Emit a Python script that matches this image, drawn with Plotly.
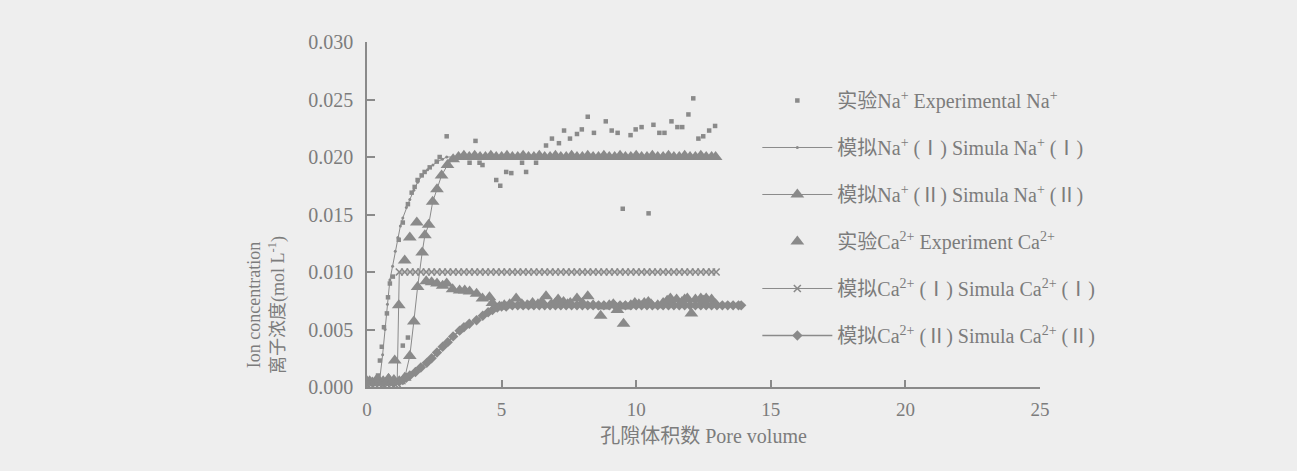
import numpy as np
import plotly.graph_objects as go

# ---------------- data ----------------
NA_EXP_X = [0.10, 0.20, 0.41, 0.48, 0.55, 0.63, 0.74, 0.78, 0.85, 0.96, 1.18, 1.33, 1.33, 1.52, 1.52,
            1.66, 1.77, 1.88, 2.03, 2.14, 2.33, 2.59, 2.70, 2.96, 3.81, 4.03, 4.18, 4.29, 4.80, 4.95,
            5.17, 5.36, 5.76, 5.91, 6.28, 6.65, 6.87, 7.13, 7.32, 7.54, 7.80, 7.98, 8.20, 8.43, 8.87,
            9.09, 9.31, 9.50, 9.79, 9.98, 10.20, 10.46, 10.64, 10.86, 11.05, 11.31, 11.53, 11.71,
            11.94, 12.12, 12.31, 12.49, 12.71, 12.93]
NA_EXP_Y = [0.0004, 0.0003, 0.0010, 0.0023, 0.0035, 0.0052, 0.0064, 0.0078, 0.0090, 0.0096, 0.0128, 0.0143,
            0.0036, 0.0159, 0.0043, 0.0169, 0.0174, 0.0180, 0.0184, 0.0187, 0.0191, 0.0196, 0.0200, 0.0218,
            0.0195, 0.0214, 0.0195, 0.0193, 0.0180, 0.0175, 0.0187, 0.0186, 0.0195, 0.0187, 0.0195, 0.0210,
            0.0216, 0.0212, 0.0223, 0.0216, 0.0220, 0.0224, 0.0235, 0.0221, 0.0231, 0.0223, 0.0221, 0.0155,
            0.0219, 0.0224, 0.0226, 0.0151, 0.0228, 0.0221, 0.0221, 0.0231, 0.0226, 0.0226, 0.0237, 0.0251,
            0.0216, 0.0218, 0.0223, 0.0227]

NA1_X = [0.0, 0.2, 0.35, 0.48, 0.58, 0.67, 0.76, 0.85, 0.95, 1.05, 1.15, 1.24, 1.33, 1.46, 1.59, 1.74,
         1.88, 2.05, 2.25, 2.45, 2.62, 2.80, 2.96, 3.4, 4.0, 5.0, 6.0, 7.0, 8.0, 9.0, 10.0, 11.0, 12.0, 12.9]
NA1_Y = [0.0003, 0.0003, 0.0004, 0.0008, 0.0028, 0.0050, 0.0072, 0.0093, 0.0105, 0.0118, 0.0130, 0.0140,
         0.0147, 0.0156, 0.0163, 0.0171, 0.0178, 0.0184, 0.0189, 0.0193, 0.0196, 0.0198, 0.0200, 0.0200,
         0.0200, 0.0200, 0.0200, 0.0200, 0.0200, 0.0200, 0.0200, 0.0200, 0.0200, 0.0200]

NA2_X = [0.0, 0.2, 0.4, 0.6, 0.8, 1.0, 1.2, 1.4, 1.59, 1.74, 1.88, 2.05, 2.15, 2.29, 2.44, 2.60, 2.77,
         2.99, 3.2, 3.4, 3.6, 3.8, 4.0, 4.2, 4.4, 4.6, 4.8, 5.0, 5.2, 5.4, 5.6, 5.8, 6.0, 6.2, 6.4, 6.6,
         6.8, 7.0, 7.2, 7.4, 7.6, 7.8, 8.0, 8.2, 8.4, 8.6, 8.8, 9.0, 9.2, 9.4, 9.6, 9.8, 10.0, 10.2,
         10.4, 10.6, 10.8, 11.0, 11.2, 11.4, 11.6, 11.8, 12.0, 12.2, 12.4, 12.6, 12.8, 12.95]
NA2_Y = [0.0005, 0.0004, 0.0006, 0.0005, 0.0007, 0.0006, 0.0005, 0.0008, 0.0027, 0.0057, 0.0087, 0.0117,
         0.0132, 0.0141, 0.0161, 0.0172, 0.0184, 0.0193, 0.0198, 0.0200, 0.0201, 0.0200, 0.0201, 0.0200,
         0.0200, 0.0201, 0.0200, 0.0200, 0.0201, 0.0200, 0.0200, 0.0201, 0.0200, 0.0200, 0.0201, 0.0200,
         0.0200, 0.0201, 0.0200, 0.0200, 0.0201, 0.0200, 0.0200, 0.0201, 0.0200, 0.0200, 0.0201, 0.0200,
         0.0200, 0.0201, 0.0200, 0.0200, 0.0201, 0.0200, 0.0200, 0.0201, 0.0200, 0.0200, 0.0201, 0.0200,
         0.0200, 0.0201, 0.0200, 0.0200, 0.0201, 0.0200, 0.0200, 0.0200]

CA_EXP_X = [0.10, 0.35, 0.60, 0.80, 1.03, 1.18, 1.40, 1.59, 1.85, 2.20, 2.40, 2.60, 2.81, 2.96, 3.18, 3.44,
            3.63, 3.81, 4.07, 4.29, 4.55, 4.66, 4.92, 5.10, 5.30, 5.54, 5.75, 5.95, 6.15, 6.35, 6.50,
            6.65, 6.85, 7.00, 7.10, 7.30, 7.45, 7.55, 7.80, 8.00, 8.20, 8.40, 8.68, 8.80, 9.00, 9.15,
            9.30, 9.53, 9.60, 9.80, 9.95, 10.10, 10.30, 10.45, 10.55, 10.80, 11.00, 11.15, 11.27, 11.50,
            11.70, 11.80, 11.90, 12.05, 12.20, 12.40, 12.50, 12.60, 12.80, 12.95]
CA_EXP_Y = [0.0005, 0.0006, 0.0004, 0.0007, 0.0023, 0.0071, 0.0110, 0.0130, 0.0143, 0.0092, 0.0091, 0.0090,
            0.0088, 0.0090, 0.0085, 0.0084, 0.0084, 0.0083, 0.0081, 0.0077, 0.0078, 0.0073, 0.0070, 0.0071,
            0.0072, 0.0077, 0.0072, 0.0071, 0.0073, 0.0072, 0.0074, 0.0079, 0.0072, 0.0073, 0.0076, 0.0074,
            0.0072, 0.0073, 0.0077, 0.0073, 0.0079, 0.0071, 0.0062, 0.0070, 0.0071, 0.0072, 0.0067, 0.0055,
            0.0070, 0.0071, 0.0073, 0.0072, 0.0073, 0.0074, 0.0072, 0.0071, 0.0073, 0.0075, 0.0077, 0.0076,
            0.0074, 0.0076, 0.0077, 0.0064, 0.0076, 0.0077, 0.0075, 0.0077, 0.0076, 0.0072]

CA1_X = [0.0, 0.15, 0.3, 0.45, 0.6, 0.75, 0.9, 1.05, 1.12, 1.2, 1.4, 1.6, 1.8, 2.0, 2.2, 2.4, 2.6, 2.8,
         3.0, 3.2, 3.4, 3.6, 3.8, 4.0, 4.2, 4.4, 4.6, 4.8, 5.0, 5.2, 5.4, 5.6, 5.8, 6.0, 6.2, 6.4, 6.6,
         6.8, 7.0, 7.2, 7.4, 7.6, 7.8, 8.0, 8.2, 8.4, 8.6, 8.8, 9.0, 9.2, 9.4, 9.6, 9.8, 10.0, 10.2,
         10.4, 10.6, 10.8, 11.0, 11.2, 11.4, 11.6, 11.8, 12.0, 12.2, 12.4, 12.6, 12.8, 12.97]
CA1_Y = [0.0002, 0.0002, 0.0002, 0.0002, 0.0002, 0.0002, 0.0002, 0.0002, 0.0003, 0.0100, 0.0100, 0.0100,
         0.0100, 0.0100, 0.0100, 0.0100, 0.0100, 0.0100, 0.0100, 0.0100, 0.0100, 0.0100, 0.0100, 0.0100,
         0.0100, 0.0100, 0.0100, 0.0100, 0.0100, 0.0100, 0.0100, 0.0100, 0.0100, 0.0100, 0.0100, 0.0100,
         0.0100, 0.0100, 0.0100, 0.0100, 0.0100, 0.0100, 0.0100, 0.0100, 0.0100, 0.0100, 0.0100, 0.0100,
         0.0100, 0.0100, 0.0100, 0.0100, 0.0100, 0.0100, 0.0100, 0.0100, 0.0100, 0.0100, 0.0100, 0.0100,
         0.0100, 0.0100, 0.0100, 0.0100, 0.0100, 0.0100, 0.0100, 0.0100, 0.0100]

CA2_X = [0.0, 0.2, 0.4, 0.6, 0.8, 1.0, 1.2, 1.33, 1.46, 1.59, 1.8, 2.0, 2.22, 2.4, 2.6, 2.81, 3.0, 3.2,
         3.44, 3.6, 3.8, 4.07, 4.3, 4.5, 4.66, 4.84, 5.0, 5.17, 5.4, 5.6, 5.8, 6.0, 6.2, 6.4, 6.6, 6.8,
         7.0, 7.2, 7.4, 7.6, 7.8, 8.0, 8.2, 8.4, 8.6, 8.8, 9.0, 9.2, 9.4, 9.6, 9.8, 10.0, 10.2, 10.4,
         10.6, 10.8, 11.0, 11.2, 11.4, 11.6, 11.8, 12.0, 12.2, 12.4, 12.6, 12.8, 13.0, 13.2, 13.4, 13.6,
         13.8, 13.9]
CA2_Y = [0.0004, 0.0004, 0.0005, 0.0004, 0.0005, 0.0004, 0.0005, 0.0006, 0.0008, 0.0010, 0.0013, 0.0017,
         0.0021, 0.0025, 0.0030, 0.0035, 0.0039, 0.0044, 0.0049, 0.0052, 0.0055, 0.0058, 0.0062, 0.0065,
         0.0067, 0.0069, 0.0070, 0.0070, 0.0071, 0.0071, 0.0071, 0.0071, 0.0071, 0.0071, 0.0071, 0.0071,
         0.0071, 0.0071, 0.0071, 0.0071, 0.0071, 0.0071, 0.0071, 0.0071, 0.0071, 0.0071, 0.0071, 0.0071,
         0.0071, 0.0071, 0.0071, 0.0071, 0.0071, 0.0071, 0.0071, 0.0071, 0.0071, 0.0071, 0.0071, 0.0071,
         0.0071, 0.0071, 0.0071, 0.0071, 0.0071, 0.0071, 0.0071, 0.0071, 0.0071, 0.0071, 0.0071, 0.0071]

NAMES = [
    "实验Na<sup>+</sup> Experimental Na<sup>+</sup>",
    "模拟Na<sup>+</sup> (Ⅰ) Simula Na<sup>+</sup> (Ⅰ)",
    "模拟Na<sup>+</sup> (Ⅱ) Simula Na<sup>+</sup> (Ⅱ)",
    "实验Ca<sup>2+</sup> Experiment Ca<sup>2+</sup>",
    "模拟Ca<sup>2+</sup> (Ⅰ) Simula Ca<sup>2+</sup> (Ⅰ)",
    "模拟Ca<sup>2+</sup> (Ⅱ) Simula Ca<sup>2+</sup> (Ⅱ)",
]
X_TICKS = [0, 5, 10, 15, 20, 25]
Y_TICKS = [0.000, 0.005, 0.010, 0.015, 0.020, 0.025, 0.030]
X_TITLE = "孔隙体积数 Pore volume"
Y_TITLE = "Ion concentration<br>离子浓度(mol L<sup>-1</sup>)"

# ---------------- style ----------------
GRAY = "#8a8a8a"
TEXT = "#7c7c7c"
BG = "#eeeeee"
FONT = "Liberation Serif, Noto Sans CJK SC, serif"

fig = go.Figure()

fig.add_trace(go.Scatter(x=CA2_X, y=CA2_Y, mode="lines+markers", name=NAMES[5], legendrank=6,
                         legendgroup="g6",
                         line=dict(color=GRAY, width=1.5),
                         marker=dict(symbol="diamond", size=8, color=GRAY)))
fig.add_trace(go.Scatter(x=CA_EXP_X, y=CA_EXP_Y, mode="markers", name=NAMES[3], legendrank=4,
                         legendgroup="g4",
                         marker=dict(symbol="triangle-up", size=12, color=GRAY)))
fig.add_trace(go.Scatter(x=CA1_X, y=CA1_Y, mode="lines+markers", name=NAMES[4], legendrank=5,
                         legendgroup="g5",
                         line=dict(color=GRAY, width=1),
                         marker=dict(symbol="x-thin", size=7, color=GRAY,
                                     line=dict(color=GRAY, width=1.6))))
fig.add_trace(go.Scatter(x=NA1_X, y=NA1_Y, mode="lines+markers", name=NAMES[1], legendrank=2,
                         legendgroup="g2",
                         line=dict(color=GRAY, width=1),
                         marker=dict(symbol="circle", size=3, color=GRAY)))
fig.add_trace(go.Scatter(x=NA2_X, y=NA2_Y, mode="lines+markers", name=NAMES[2], legendrank=3,
                         legendgroup="g3",
                         line=dict(color=GRAY, width=1),
                         marker=dict(symbol="triangle-up", size=12, color=GRAY)))
fig.add_trace(go.Scatter(x=NA_EXP_X, y=NA_EXP_Y, mode="markers", name=NAMES[0], legendrank=1,
                         legendgroup="g1",
                         marker=dict(symbol="square", size=4.5, color=GRAY)))

fig.add_annotation(text=Y_TITLE, xref="paper", yref="paper", x=-0.150, y=0.238,
                   xanchor="center", yanchor="middle", textangle=-90, showarrow=False,
                   font=dict(family=FONT, size=18, color=TEXT))

fig.update_layout(
    width=1297, height=471,
    margin=dict(l=367, r=257, t=42, b=84),
    paper_bgcolor=BG, plot_bgcolor=BG,
    font=dict(family=FONT, size=17, color=TEXT),
    showlegend=True,
    legend=dict(x=0.580, y=0.887, xanchor="left", yanchor="top",
                bgcolor="rgba(0,0,0,0)", font=dict(family=FONT, size=20, color=TEXT),
                traceorder="grouped", tracegroupgap=18, itemwidth=70),
    xaxis=dict(range=[0, 25], tickvals=X_TICKS, ticktext=[str(v) for v in X_TICKS],
               showgrid=False, zeroline=False, showline=True, linecolor=GRAY, linewidth=1.5,
               ticks="inside", ticklen=7, tickcolor=GRAY, tickwidth=1.5, ticklabelstandoff=4,
               tickfont=dict(family=FONT, size=19, color=TEXT),
               title=dict(text=X_TITLE, standoff=10,
                          font=dict(family=FONT, size=20, color=TEXT))),
    yaxis=dict(range=[0, 0.030], tickvals=Y_TICKS, ticktext=[f"{v:.3f}" for v in Y_TICKS],
               showgrid=False, zeroline=False, showline=True, linecolor=GRAY, linewidth=1.5,
               ticks="inside", ticklen=8, tickcolor=GRAY, tickwidth=1.5, ticklabelstandoff=8,
               tickfont=dict(family=FONT, size=20, color=TEXT)),
)

fig.write_html("out.html",
               config={"displayModeBar": False},
               post_script="document.body.style.margin='0';document.body.style.background='#eeeeee';")
